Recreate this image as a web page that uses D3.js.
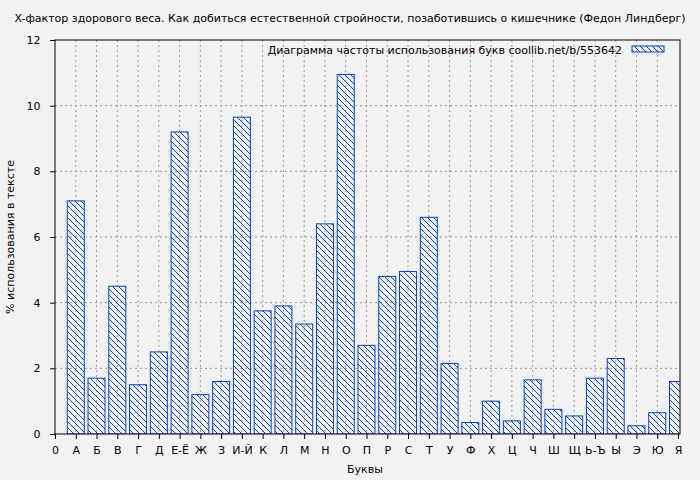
<!DOCTYPE html>
<html><head><meta charset="utf-8">
<script src="https://cdn.jsdelivr.net/npm/d3@7"></script>
<style>body{margin:0;background:#f2f2f2}text{font-family:"DejaVu Sans",sans-serif}</style>
</head><body>
<script>
const letters = ["А","Б","В","Г","Д","Е-Ё","Ж","З","И-Й","К","Л","М","Н","О","П","Р","С","Т","У","Ф","Х","Ц","Ч","Ш","Щ","Ь-Ъ","Ы","Э","Ю","Я"];
const values = [7.1,1.7,4.5,1.5,2.5,9.2,1.2,1.6,9.65,3.75,3.9,3.35,6.4,10.95,2.7,4.8,4.95,6.6,2.15,0.35,1.0,0.4,1.65,0.75,0.55,1.7,2.3,0.25,0.65,1.6];
const yTicks = [0,2,4,6,8,10,12];

const width = 700, height = 480;
const mLeft = 55, mRight = 680, mTop = 40, mBottom = 434;
const blue = "#0645b4";

const x = d3.scaleLinear().domain([0, 30]).range([mLeft, 678]);
const y = d3.scaleLinear().domain([0, 12]).range([mBottom, mTop]);

const svg = d3.select("body").append("svg").attr("width", width).attr("height", height);

const defs = svg.append("defs");
const pat = defs.append("pattern").attr("id", "hatch").attr("patternUnits", "userSpaceOnUse")
    .attr("width", 6).attr("height", 6);
pat.append("path").attr("d", "M-1,-1 L7,7 M-1,5 L1,7 M5,-1 L7,1").attr("stroke", blue).attr("stroke-width", 1);
defs.append("clipPath").attr("id", "clip").append("rect")
    .attr("x", mLeft).attr("y", mTop).attr("width", mRight - mLeft).attr("height", mBottom - mTop);

// grid
svg.append("g").selectAll("line").data(yTicks.slice(1, -1)).join("line")
    .attr("x1", mLeft).attr("x2", mRight).attr("y1", d => y(d)).attr("y2", d => y(d))
    .attr("stroke", "#999").attr("stroke-dasharray", "2,3");
svg.append("g").selectAll("line").data(d3.range(1, 30)).join("line")
    .attr("x1", d => x(d)).attr("x2", d => x(d)).attr("y1", mTop).attr("y2", mBottom)
    .attr("stroke", "#999").attr("stroke-dasharray", "2,3");

// bars
svg.append("g").attr("clip-path", "url(#clip)").selectAll("rect").data(values).join("rect")
    .attr("x", (d, i) => x(i + 1) - 8.5).attr("width", 17)
    .attr("y", d => y(d)).attr("height", d => y(0) - y(d))
    .attr("fill", "url(#hatch)").attr("stroke", blue).attr("stroke-width", 1);

// frame
svg.append("rect").attr("x", mLeft).attr("y", mTop).attr("width", mRight - mLeft).attr("height", mBottom - mTop)
    .attr("fill", "none").attr("stroke", "#000");

// axes
svg.append("g").attr("transform", `translate(0,${mBottom})`)
    .call(d3.axisBottom(x).ticks(30).tickSize(5).tickFormat(d => d === 0 ? "0" : letters[d - 1]))
    .call(g => g.select(".domain").remove())
    .call(g => g.selectAll("text").attr("font-size", 11).attr("fill", "#000").attr("dy", "1.1em"));
svg.append("g").attr("transform", `translate(${mLeft},0)`)
    .call(d3.axisLeft(y).tickValues(yTicks).tickSize(5))
    .call(g => g.select(".domain").remove())
    .call(g => g.selectAll("text").attr("font-size", 11).attr("fill", "#000").attr("dx", "-0.6em"));

// titles
svg.append("text").attr("x", 350).attr("y", 22).attr("text-anchor", "middle").attr("font-size", 11)
    .text("X-фактор здорового веса. Как добиться естественной стройности, позаботившись о кишечнике (Федон Линдберг)");
svg.append("text").attr("x", 365).attr("y", 473).attr("text-anchor", "middle").attr("font-size", 11).text("Буквы");
svg.append("text").attr("transform", "translate(14,237) rotate(-90)").attr("text-anchor", "middle")
    .attr("font-size", 11).text("% использования в тексте");

// legend
svg.append("text").attr("x", 622).attr("y", 54).attr("text-anchor", "end").attr("font-size", 11)
    .text("Диаграмма частоты использования букв  coollib.net/b/553642");
svg.append("rect").attr("x", 632).attr("y", 46).attr("width", 32).attr("height", 6)
    .attr("fill", "url(#hatch)").attr("stroke", blue);
</script>
</body></html>
